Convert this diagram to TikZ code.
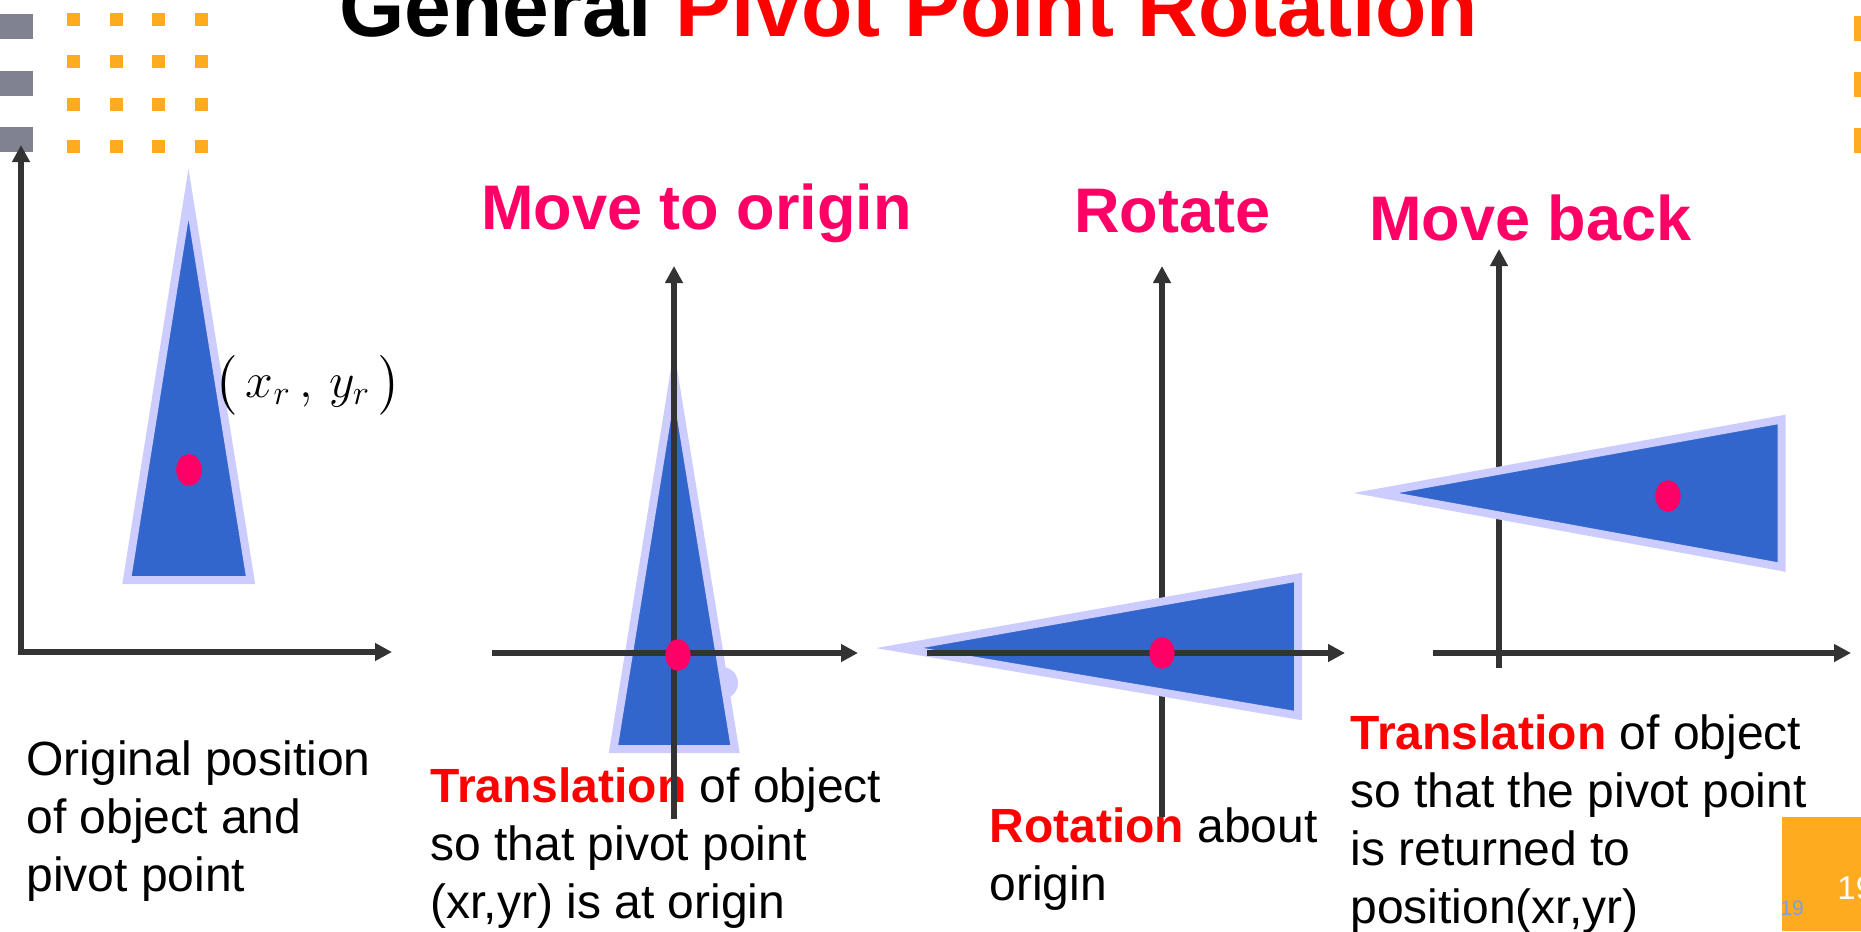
\documentclass[tikz,border=0pt]{standalone}
\usepackage{fontspec}
\setmainfont{Liberation Sans}
\usepackage{amsmath}
\usetikzlibrary{arrows.meta}
\definecolor{objblue}{RGB}{51,102,204}
\definecolor{objedge}{RGB}{204,204,255}
\definecolor{pivotpink}{RGB}{255,0,102}
\definecolor{titlered}{RGB}{255,0,0}
\definecolor{axisgray}{RGB}{51,51,51}
\definecolor{decogray}{RGB}{128,130,145}
\definecolor{decoorange}{RGB}{255,171,32}
\definecolor{pageblue}{RGB}{122,160,228}
\tikzset{
  objtri/.style={fill=objblue,draw=objedge,line width=4pt,line join=miter},
  pivotdot/.style={fill=pivotpink},
  caption/.style={anchor=base west,inner sep=0pt,align=left,font=\fontsize{24}{29}\selectfont},
  stephead/.style={anchor=base west,inner sep=0pt,text=pivotpink,font=\fontsize{31.5}{38}\selectfont\bfseries}
}

\begin{document}
\begin{tikzpicture}[x=0.5pt,y=-0.5pt,
  axisline/.style={draw=axisgray,line width=2.7pt,-{Triangle[length=8.5pt,width=8.5pt]}}
]
  \useasboundingbox (0,0) rectangle (1861,931);
  \foreach \y in {14,71,127} \fill[decogray] (0,\y) rectangle ++(33,25);
  \foreach \x in {67,110,152,195} \foreach \y in {13,55,98,140} \fill[decoorange] (\x,\y) rectangle ++(13,13);
  \foreach \y in {16,72,128} \fill[decoorange] (1854,\y) rectangle ++(7,25);
  \fill[decoorange] (1782,817) rectangle (1861,931);
  \node[anchor=base west,inner sep=0pt,text=white,font=\fontsize{16.5}{20}\selectfont] (pgnum) at (1837,899) {19};
  \node[anchor=base west,inner sep=0pt,text=pageblue,font=\fontsize{10.5}{12}\selectfont] (pgsmall) at (1780,915) {19};
  \node[anchor=base west,inner sep=0pt,font=\fontsize{42}{50}\selectfont\bfseries] (title) at (339,37) {General \textcolor{titlered}{Pivot Point Rotation}};

  \node[caption] (cap1) at (26,891) {Original position\\of object and\\pivot point};
  \node[caption] (cap2) at (430,918) {\textcolor{titlered}{\bfseries Translation} of object\\so that pivot point\\(xr,yr) is at origin};
  \node[caption] (cap3) at (989,900) {\textcolor{titlered}{\bfseries Rotation} about\\origin};
  \node[caption] (cap4) at (1350,923) {\textcolor{titlered}{\bfseries Translation} of object\\so that the pivot point\\is returned to\\position(xr,yr)};

  % original
  \draw[axisline,line cap=rect] (21,652) -- (21,145);
  \draw[axisline,line cap=rect] (21,652) -- (392,652);
  \draw[objtri] (188.5,194) -- (127,580) -- (250.5,580) -- cycle;
  \fill[pivotdot] (189,470) ellipse [x radius=6.4pt,y radius=8pt];
  \node[font=\fontsize{26}{31}\selectfont] (pivotlbl) at (308,385) {$\bigl(\,x_r\,,\,y_r\,\bigr)$};

  % move to origin
  \node[stephead] (head2) at (481,229) {Move to origin};
  \fill[objedge] (722,683) circle [radius=8pt];
  \draw[objtri] (674,375) -- (613.5,749) -- (735,749) -- cycle;
  \draw[axisline] (492,653) -- (858,653);
  \draw[axisline] (674,819) -- (674,266);
  \fill[pivotdot] (678,655) ellipse [x radius=6.3pt,y radius=7.9pt];

  % rotate
  \node[stephead] (head3) at (1074,232) {Rotate};
  \draw[axisline] (1162,817) -- (1162,266);
  \draw[objtri] (899.5,648) -- (1298,577.5) -- (1298,715.5) -- cycle;
  \draw[axisline] (927,653) -- (1345,653);
  \fill[pivotdot] (1162,653) ellipse [x radius=6.3pt,y radius=7.9pt];

  % move back
  \node[stephead] (head4) at (1369,240) {Move back};
  \draw[axisline] (1499,668) -- (1499,249);
  \draw[axisline] (1433,653) -- (1851,653);
  \draw[objtri] (1376,493) -- (1781.5,419.5) -- (1781.5,567) -- cycle;
  \fill[pivotdot] (1668,496) ellipse [x radius=6.3pt,y radius=7.9pt];
\end{tikzpicture}
\end{document}
